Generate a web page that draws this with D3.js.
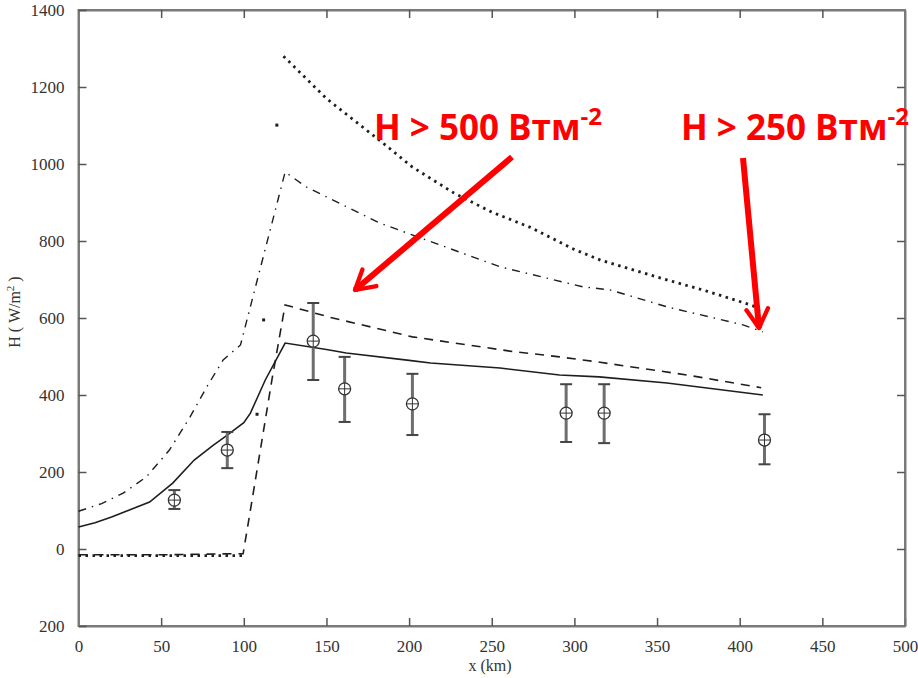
<!DOCTYPE html>
<html>
<head>
<meta charset="utf-8">
<script src="https://cdn.jsdelivr.net/npm/d3@7"></script>
<style>
  html, body { margin: 0; padding: 0; background: #fff; }
  svg { display: block; }
</style>
</head>
<body>
<svg id="chart" width="918" height="678"></svg>
<script>
// ---- Data ----
const xTicks = [0, 50, 100, 150, 200, 250, 300, 350, 400, 450, 500];
const yTicks = [-200, 0, 200, 400, 600, 800, 1000, 1200, 1400];
const yTickLabels = ["200", "0", "200", "400", "600", "800", "1000", "1200", "1400"];

// solid model line
const solidX = [0, 10, 20, 30, 43, 57, 70, 81, 90, 100, 104, 113, 125, 150, 162, 200, 213, 255, 291, 315, 356, 414];
const solidY = [57, 68, 83, 100, 122, 171, 231, 268, 296, 328, 353, 439, 535, 518, 509, 490, 483, 470, 452, 447, 431, 400];

// dashed model line
const dashedX = [0, 50, 99.6, 104, 117, 125, 152, 202, 261, 291, 314, 368, 413];
const dashedY = [-15, -15, -12, 101, 439, 634, 602, 551, 514, 499, 486, 452, 419];

// dash-dot model line
const dashDotX = [0, 14, 27, 41, 55, 67.5, 77.6, 87.5, 98, 125, 138, 182, 255, 305, 321.5, 356, 402, 414];
const dashDotY = [98, 118, 145, 187, 257, 343, 421, 491, 530, 979, 940, 847, 733, 681, 673, 629, 582, 564];

// dotted model line (flat part, isolated rising dots, descending part)
const dottedLowX = [0, 50, 100];
const dottedLowY = [-17, -17, -17];
const dottedRiseX = [108, 112, 120];
const dottedRiseY = [350, 595, 1101];
const dottedHighX = [124, 150, 184, 202, 227, 250, 273, 300, 316, 356, 380, 408, 414];
const dottedHighY = [1280, 1170, 1055, 992, 925, 875, 836, 778, 750, 699, 670, 632, 610];

// observations with error bars
const obsX = [58, 90, 142, 161, 202, 295, 318, 415];
const obsY = [127, 257, 540, 416, 377, 353, 353, 283];
const obsLow = [104, 210, 439, 330, 296, 278, 275, 220];
const obsHigh = [153, 304, 639, 499, 455, 428, 428, 350];

// annotations
const annotTexts = ["H > 500 Втм", "H > 250 Втм"];
const annotSup = ["-2", "-2"];

// ---- Layout ----
const svg = d3.select("#chart");
const L = 78.5, R = 905, T = 10, B = 626;
const x = d3.scaleLinear().domain([0, 500]).range([L, R]);
const y = d3.scaleLinear().domain([-200, 1400]).range([B, T]);

const axisColor = "#7a7a7a";
const lineColor = "#1e1e1e";
const SERIF = '"Liberation Serif", "DejaVu Serif", serif';
const SANS = '"Open Sans", "Liberation Sans", sans-serif';

// frame
svg.append("rect").attr("x", L).attr("y", T).attr("width", R - L).attr("height", B - T)
  .attr("fill", "none").attr("stroke", axisColor).attr("stroke-width", 2);

// axes with inward ticks
const xAxisB = d3.axisBottom(x).tickValues(xTicks).tickSizeInner(-8).tickSizeOuter(0).tickPadding(14);
const gx = svg.append("g").attr("transform", `translate(0,${B})`).call(xAxisB);
const xAxisT = d3.axisTop(x).tickValues(xTicks.slice(1, -1)).tickSizeInner(-8).tickSizeOuter(0).tickFormat("");
const gxt = svg.append("g").attr("transform", `translate(0,${T})`).call(xAxisT);
const yAxisL = d3.axisLeft(y).tickValues(yTicks).tickSizeInner(-8).tickSizeOuter(0).tickPadding(14)
  .tickFormat((d, i) => yTickLabels[i]);
const gy = svg.append("g").attr("transform", `translate(${L},0)`).call(yAxisL);
const yAxisR = d3.axisRight(y).tickValues(yTicks.slice(1, -1)).tickSizeInner(-8).tickSizeOuter(0).tickFormat("");
const gyr = svg.append("g").attr("transform", `translate(${R},0)`).call(yAxisR);

[gx, gxt, gy, gyr].forEach(g => {
  g.attr("font-family", null).attr("font-size", null);
  g.select(".domain").attr("stroke", axisColor).attr("stroke-width", 2);
  g.selectAll(".tick line").attr("stroke", "#555").attr("stroke-width", 1.5);
  g.selectAll(".tick text").attr("fill", "#333")
    .style("font-family", SERIF).style("font-size", "17px");
});

// axis titles
svg.append("text").attr("x", 490).attr("y", 671).attr("text-anchor", "middle")
  .style("font-family", SERIF).style("font-size", "16px").attr("fill", "#333").text("x (km)");
const yt = svg.append("text").attr("transform", "translate(20,312) rotate(-90)")
  .attr("text-anchor", "middle").style("font-family", SERIF).style("font-size", "16px").attr("fill", "#333");
yt.append("tspan").text("H ( W/m");
yt.append("tspan").attr("dy", -6).style("font-size", "11px").text("2");
yt.append("tspan").attr("dy", 6).text(" )");

// lines
const line = d3.line().x(d => x(d[0])).y(d => y(d[1]));
const zip = (a, b) => a.map((v, i) => [v, b[i]]);

svg.append("path").datum(zip(solidX, solidY)).attr("d", line)
  .attr("fill", "none").attr("stroke", lineColor).attr("stroke-width", 1.6);
svg.append("path").datum(zip(dashedX, dashedY)).attr("d", line)
  .attr("fill", "none").attr("stroke", lineColor).attr("stroke-width", 1.6).attr("stroke-dasharray", "9,7");
svg.append("path").datum(zip(dashDotX, dashDotY)).attr("d", line)
  .attr("fill", "none").attr("stroke", lineColor).attr("stroke-width", 1.4).attr("stroke-dasharray", "8,6,1.5,6");
[zip(dottedLowX, dottedLowY), zip(dottedHighX, dottedHighY)].forEach(dat => {
  svg.append("path").datum(dat).attr("d", line)
    .attr("fill", "none").attr("stroke", lineColor).attr("stroke-width", 2.8).attr("stroke-dasharray", "2.5,4.5");
});
svg.selectAll(".risedot").data(zip(dottedRiseX, dottedRiseY)).enter().append("rect")
  .attr("x", d => x(d[0]) - 1.5).attr("y", d => y(d[1]) - 1.5).attr("width", 3).attr("height", 3)
  .attr("fill", lineColor);

// observations
const obs = obsX.map((v, i) => ({ x: v, y: obsY[i], lo: obsLow[i], hi: obsHigh[i] }));
const og = svg.append("g").selectAll("g").data(obs).enter().append("g");
const barColor = "#6e6e6e";
og.append("line").attr("x1", d => x(d.x)).attr("x2", d => x(d.x)).attr("y1", d => y(d.lo)).attr("y2", d => y(d.hi))
  .attr("stroke", barColor).attr("stroke-width", 3);
og.append("line").attr("x1", d => x(d.x) - 6).attr("x2", d => x(d.x) + 6).attr("y1", d => y(d.lo)).attr("y2", d => y(d.lo))
  .attr("stroke", "#444").attr("stroke-width", 2);
og.append("line").attr("x1", d => x(d.x) - 6).attr("x2", d => x(d.x) + 6).attr("y1", d => y(d.hi)).attr("y2", d => y(d.hi))
  .attr("stroke", "#444").attr("stroke-width", 2);
og.append("circle").attr("cx", d => x(d.x)).attr("cy", d => y(d.y)).attr("r", 6)
  .attr("fill", "#fff").attr("stroke", "#333").attr("stroke-width", 1.3);
og.append("line").attr("x1", d => x(d.x) - 6).attr("x2", d => x(d.x) + 6).attr("y1", d => y(d.y)).attr("y2", d => y(d.y))
  .attr("stroke", "#333").attr("stroke-width", 1);
og.append("line").attr("x1", d => x(d.x)).attr("x2", d => x(d.x)).attr("y1", d => y(d.y) - 6).attr("y2", d => y(d.y) + 6)
  .attr("stroke", "#333").attr("stroke-width", 1);

// annotations (red)
const red = "#ff0000";
const annotPos = [[374, 140], [681, 140]];
annotTexts.forEach((t, i) => {
  const tx = svg.append("text").attr("x", annotPos[i][0]).attr("y", annotPos[i][1])
    .style("font-family", SANS).style("font-weight", "bold").style("font-size", "35px").attr("fill", red);
  tx.append("tspan").text(t);
  tx.append("tspan").attr("dy", -15).style("font-size", "24px").text(annotSup[i]);
});

const defs = svg.append("defs");
defs.append("marker").attr("id", "arrow").attr("viewBox", "0 0 10 10").attr("refX", 8).attr("refY", 5)
  .attr("markerWidth", 4.5).attr("markerHeight", 4.5).attr("orient", "auto")
  .append("path").attr("d", "M1,1 L8,5 L1,9").attr("fill", "none").attr("stroke", red)
  .attr("stroke-width", 1.6).attr("stroke-linecap", "round").attr("stroke-linejoin", "round");

const arrows = [[512, 157, 355, 290], [743, 158, 759, 328]];
arrows.forEach(a => {
  svg.append("line").attr("x1", a[0]).attr("y1", a[1]).attr("x2", a[2]).attr("y2", a[3])
    .attr("stroke", red).attr("stroke-width", 6).attr("marker-end", "url(#arrow)");
});
</script>
</body>
</html>
